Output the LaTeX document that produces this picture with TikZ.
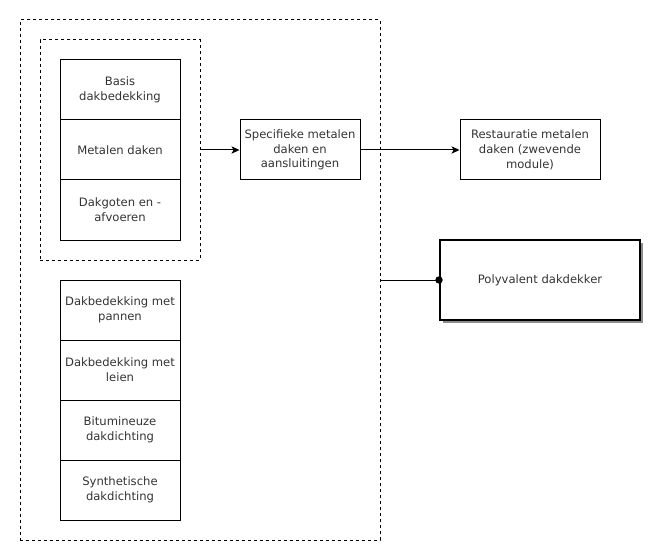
\documentclass[tikz,border=0pt]{standalone}
\usepackage{fontspec}
\setmainfont{DejaVu Sans}
\usetikzlibrary{arrows.meta,shadows}

\begin{document}
\begin{tikzpicture}[x=0.75pt,y=-0.75pt,
        box/.style={draw,black,line width=0.75pt,minimum width=90pt,minimum height=45pt,
          align=center,font=\fontsize{8.7}{11}\selectfont,text=black!80,inner sep=0pt},
        group/.style={draw,line width=0.75pt,dash pattern=on 2.25pt off 2.25pt,inner sep=0pt},
        flow/.style={line width=0.75pt,-{Stealth[length=6pt,width=5.5pt,inset=1.5pt]}}]
        \useasboundingbox (0,0) rectangle (648,545);

        % containers
        \node[group,minimum width=270pt,minimum height=390pt] (outer) at (200,280) {};
        \node[group,minimum width=120pt,minimum height=165pt] (inner) at (120,150) {};

        % stacked modules
        \node[box] (basis) at (120,90) {Basis\\dakbedekking};
        \node[box] (metal) at (120,150) {Metalen daken};
        \node[box] (goten) at (120,210) {Dakgoten en -\\afvoeren};

        \node[box] (pannen) at (120,310) {Dakbedekking met\\pannen};
        \node[box] (leien) at (120,370) {Dakbedekking met\\leien};
        \node[box] (bitum) at (120,430) {Bitumineuze\\dakdichting};
        \node[box] (synth) at (120,490) {Synthetische\\dakdichting};

        \node[box] (spec) at (300,150) {Specifieke metalen\\daken en\\aansluitingen};
        \node[box,minimum width=105pt] (resta) at (530,150) {Restauratie metalen\\daken (zwevende\\module)};
        \node[box,fill=white,line width=1.5pt,minimum width=150pt,minimum height=60pt,
              drop shadow={shadow xshift=2.25pt,shadow yshift=-2.25pt,fill=black!45,opacity=1}]
              (poly) at (540,280) {Polyvalent dakdekker};

        % connectors
        \draw[flow] (inner.east) -- (spec.west);
        \draw[flow] (spec.east) -- (resta.west);
        \draw[line width=0.75pt,shorten >=-2.75pt,-{Circle[length=5.5pt]}] (outer.east) -- (poly.west);

      \end{tikzpicture}
\end{document}
